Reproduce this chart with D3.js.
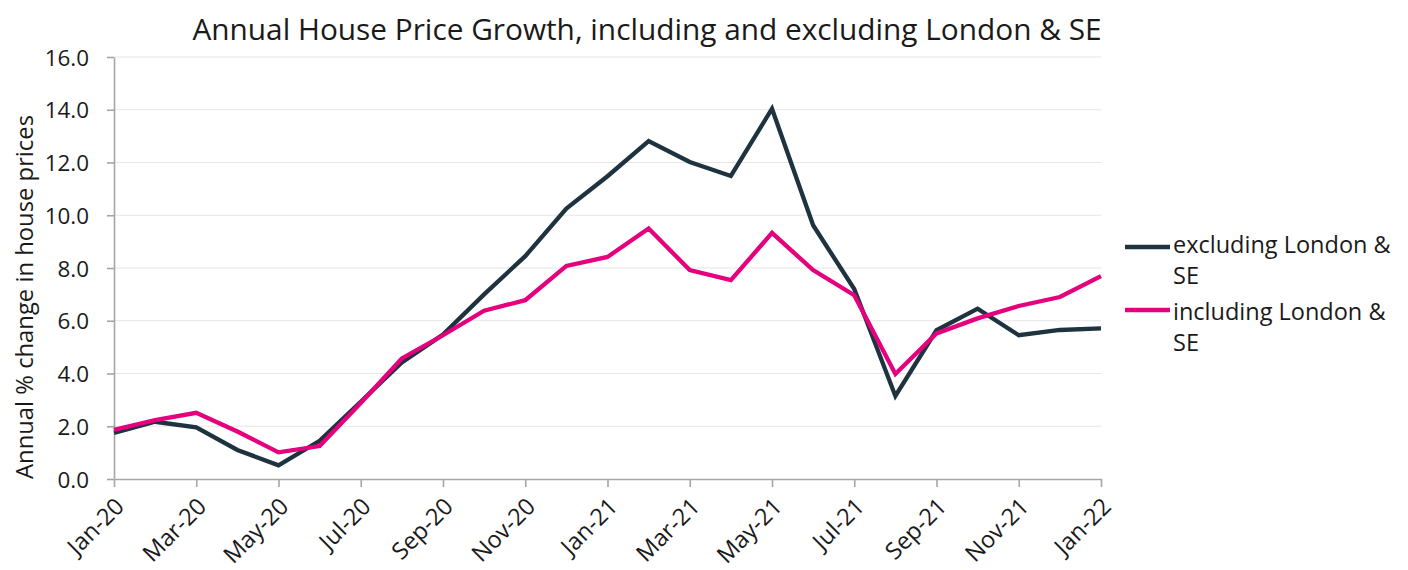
<!DOCTYPE html>
<html><head><meta charset="utf-8">
<script src="https://cdn.jsdelivr.net/npm/d3@7"></script>
<style>
body{margin:0;background:#fff;}
text{font-family:"Open Sans",sans-serif;fill:#1a1a1a;}
</style></head>
<body><svg id="c" width="1408" height="570"></svg>
<script>
const months = ["Jan-20","Feb-20","Mar-20","Apr-20","May-20","Jun-20","Jul-20","Aug-20","Sep-20","Oct-20","Nov-20","Dec-20",
"Jan-21","Feb-21","Mar-21","Apr-21","May-21","Jun-21","Jul-21","Aug-21","Sep-21","Oct-21","Nov-21","Dec-21","Jan-22"];
const excludingLondonSE = [1.75,2.17,1.96,1.1,0.52,1.45,2.93,4.42,5.48,7.0,8.45,10.25,11.48,12.81,12.02,11.49,14.04,9.62,7.2,3.15,5.64,6.46,5.45,5.65,5.71];
const includingLondonSE = [1.86,2.23,2.51,1.8,1.01,1.25,2.88,4.57,5.45,6.38,6.78,8.08,8.42,9.5,7.92,7.54,9.33,7.92,6.97,3.98,5.52,6.09,6.56,6.9,7.69];
const yTicks = [0,2,4,6,8,10,12,14,16];
const xTickLabels = months.filter((m,i)=>i%2===0);
const seriesNames = ["excluding London & SE","including London & SE"];
const colors = ["#1e333f","#e5007d"];

const svg = d3.select("#c");
const L=114, R=1101, T=57, B=479;
const x = d3.scalePoint().domain(months).range([L,R]);
const y = d3.scaleLinear().domain([0,16]).range([B,T]);

// grid
svg.append("g").selectAll("line").data(yTicks.filter(d=>d>0)).join("line")
  .attr("x1",L).attr("x2",R).attr("y1",d=>y(d)).attr("y2",d=>y(d))
  .attr("stroke","#e6e6e6").attr("stroke-width",1.2);

// y axis
const ya = svg.append("g").attr("transform",`translate(${L},0)`)
  .call(d3.axisLeft(y).tickValues(yTicks).tickFormat(d3.format(".1f")).tickSize(7).tickSizeOuter(0));
ya.select(".domain").attr("stroke","#a6a6a6").attr("stroke-width",1.6);
ya.selectAll(".tick line").attr("stroke","#a6a6a6").attr("stroke-width",1.6);
ya.selectAll(".tick text").attr("x",-25).attr("dy","0.36em").style("font-size","22.4px").style("font-family","Open Sans").attr("fill","#1a1a1a");

// x axis
const xa = svg.append("g").attr("transform",`translate(0,${B})`)
  .call(d3.axisBottom(x).tickValues(xTickLabels).tickSize(8).tickSizeOuter(0));
xa.select(".domain").attr("stroke","#a6a6a6").attr("stroke-width",1.6);
xa.selectAll(".tick line").attr("stroke","#a6a6a6").attr("stroke-width",1.6);
xa.selectAll(".tick text").style("font-size","23.5px").style("font-family","Open Sans").attr("fill","#1a1a1a")
  .attr("text-anchor","end").attr("dy",null).attr("y",0)
  .attr("transform","translate(11,29) rotate(-45)");

// lines
const line = d3.line().x((d,i)=>x(months[i])).y(d=>y(d));
[excludingLondonSE, includingLondonSE].forEach((s,k)=>{
  svg.append("path").datum(s).attr("d",line).attr("fill","none")
    .attr("stroke",colors[k]).attr("stroke-width",4.3).attr("stroke-linejoin","miter");
});

// title
svg.append("text").attr("x",647).attr("y",40).attr("text-anchor","middle")
  .style("font-size","29.8px").text("Annual House Price Growth, including and excluding London & SE");

// y label
svg.append("text").attr("transform","translate(33,297) rotate(-90)").attr("text-anchor","middle")
  .style("font-size","23.8px").text("Annual % change in house prices");

// legend
const lg = svg.append("g");
const legY = [247,310];
const legText = [253,320];
seriesNames.forEach((n,k)=>{
  lg.append("line").attr("x1",1125).attr("x2",1170).attr("y1",legY[k]).attr("y2",legY[k])
    .attr("stroke",colors[k]).attr("stroke-width",4.3);
  const parts = [n.replace(/ SE$/,""), "SE"];
  const t = lg.append("text").attr("x",1173).attr("y",legText[k]).style("font-size","23.5px");
  t.append("tspan").attr("x",1173).text(parts[0]);
  t.append("tspan").attr("x",1173).attr("dy",31).text(parts[1]);
});
</script></body></html>
